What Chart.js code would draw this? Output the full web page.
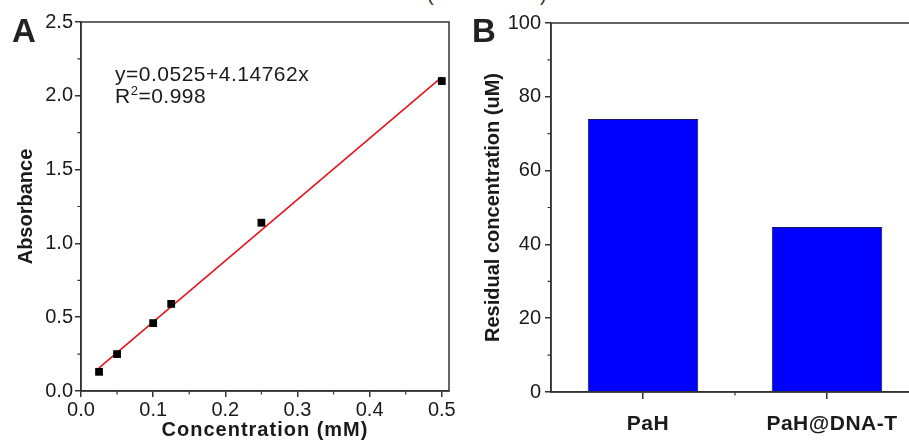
<!DOCTYPE html>
<html>
<head>
<meta charset="utf-8">
<script src="https://cdn.jsdelivr.net/npm/chart.js@4.4.1/dist/chart.umd.min.js"></script>
<style>
  html, body { margin: 0; padding: 0; background: #fff; }
  body { width: 909px; height: 442px; overflow: hidden; position: relative; font-family: 'Liberation Sans', Arial, sans-serif; }
  canvas { position: absolute; top: 0; }
  #chartA { left: 0; }
  #chartB { left: 460px; }
  .panel { position: absolute; font-weight: bold; font-size: 33px; line-height: 1; color: #222; }
  .paren { position: absolute; font-size: 20px; line-height: 1; color: #333; top: -16px; }
</style>
</head>
<body>
<div class="paren" style="left:427px">(</div>
<div class="paren" style="left:540px">)</div>
<canvas id="chartA" width="460" height="442"></canvas>
<canvas id="chartB" width="470" height="442"></canvas>
<div class="panel" style="left:12px; top:14px">A</div>
<div class="panel" style="left:472px; top:14px">B</div>
<script>
// A: calibration standards and their linear fit
const concMM = [0.025, 0.05, 0.1, 0.125, 0.25, 0.5];
const absorbance = [0.13, 0.25, 0.46, 0.59, 1.14, 2.1];
const fitIntercept = 0.0525;
const fitSlope = 4.14762;
const fitRange = [0.025, 0.5];
const fitR2 = '0.998';

// B: residual concentration per sample
const samples = ['PaH', 'PaH@DNA-T'];
const residual = [74.0, 44.7];

const FONT = "'Liberation Sans', Arial, sans-serif";
const AXIS = '#333';
const TEXT = '#1a1a1a';

// box round the plot area, plus short ticks halfway between the labelled ones
const framePlugin = {
  id: 'frame',
  afterDraw(chart) {
    const { ctx, chartArea: a } = chart;
    ctx.save();
    ctx.strokeStyle = AXIS;
    ctx.lineWidth = 1.5;
    ctx.strokeRect(a.left, a.top, a.right - a.left, a.bottom - a.top);
    ctx.lineWidth = 1.2;
    ctx.beginPath();
    for (const id of ['x', 'y']) {
      const s = chart.scales[id];
      const px = s.ticks.map((t, i) => s.getPixelForTick(i));
      for (let i = 0; i < px.length - 1; i++) {
        const m = (px[i] + px[i + 1]) / 2;
        if (s.isHorizontal()) { ctx.moveTo(m, a.bottom); ctx.lineTo(m, a.bottom + 3.5); }
        else { ctx.moveTo(a.left, m); ctx.lineTo(a.left - 3.5, m); }
      }
    }
    ctx.stroke();
    ctx.restore();
  }
};

// fit equation in the upper left of panel A
const fitLabel = {
  id: 'fitLabel',
  afterDraw(chart) {
    const { ctx, chartArea: a } = chart;
    const x0 = a.left + 34;
    ctx.save();
    ctx.fillStyle = TEXT;
    ctx.textBaseline = 'alphabetic';
    ctx.letterSpacing = '0.5px';
    ctx.font = `21px ${FONT}`;
    ctx.fillText(`y=${fitIntercept}+${fitSlope}x`, x0, a.top + 59);
    let x = x0;
    ctx.fillText('R', x, a.top + 81);
    x += ctx.measureText('R').width;
    ctx.font = `13px ${FONT}`;
    ctx.fillText('2', x, a.top + 73);
    x += ctx.measureText('2').width;
    ctx.font = `21px ${FONT}`;
    ctx.fillText('=' + fitR2, x, a.top + 81);
    ctx.restore();
  }
};

// wider tracking for one part of a scale ('drawTitle' or 'drawLabels')
function spaced(method, px) {
  return s => {
    if (s._spaced) return;
    const orig = s[method].bind(s);
    s[method] = (...args) => {
      s.ctx.save();
      s.ctx.letterSpacing = px;
      orig(...args);
      s.ctx.restore();
    };
    s._spaced = true;
  };
}

function axisStyle(tickLength) {
  return {
    grid: { drawOnChartArea: false, tickLength, color: AXIS, lineWidth: 1.5 },
    border: { color: AXIS, width: 1.5 }
  };
}

new Chart(document.getElementById('chartA'), {
  type: 'scatter',
  data: {
    datasets: [
      {
        data: concMM.map((x, i) => ({ x, y: absorbance[i] })),
        pointStyle: 'rect',
        pointRadius: 5.5,
        backgroundColor: '#000',
        borderColor: '#000',
        borderWidth: 0
      },
      {
        type: 'line',
        showLine: true,
        data: fitRange.map(x => ({ x, y: fitIntercept + fitSlope * x })),
        borderColor: '#e3151b',
        borderWidth: 1.6,
        pointRadius: 0,
        fill: false
      }
    ]
  },
  options: {
    responsive: false,
    animation: false,
    events: [],
    layout: { padding: { top: 22, right: 11, left: 0, bottom: 0 } },
    plugins: { legend: { display: false }, tooltip: { enabled: false } },
    scales: {
      x: {
        type: 'linear', min: 0, max: 0.51,
        afterFit: s => { s.height = 51; spaced('drawTitle', '1px')(s); },
        ...axisStyle(6),
        ticks: {
          stepSize: 0.1, includeBounds: false, autoSkip: false, maxRotation: 0,
          padding: 1, color: TEXT, font: { size: 20, family: FONT },
          callback: v => v.toFixed(1)
        },
        title: {
          display: true, text: 'Concentration (mM)', color: TEXT,
          font: { size: 20, weight: 'bold', family: FONT }, padding: { top: 0, bottom: 0 }
        }
      },
      y: {
        min: 0, max: 2.5,
        afterFit: s => { s.width = 81; },
        ...axisStyle(6),
        ticks: {
          stepSize: 0.5, padding: 2, color: TEXT, font: { size: 20, family: FONT },
          callback: v => v.toFixed(1)
        },
        title: {
          display: true, text: 'Absorbance', color: TEXT,
          font: { size: 20, weight: 'bold', family: FONT }, padding: { top: 14, bottom: 0 }
        }
      }
    }
  },
  plugins: [framePlugin, fitLabel]
});

new Chart(document.getElementById('chartB'), {
  type: 'bar',
  data: {
    labels: samples,
    datasets: [{
      data: residual,
      backgroundColor: '#0000fe',
      borderColor: '#16166a',
      borderWidth: 1,
      barPercentage: 0.6,
      categoryPercentage: 1
    }]
  },
  options: {
    responsive: false,
    animation: false,
    events: [],
    layout: { padding: { top: 23, right: 11, left: 0, bottom: 0 } },
    plugins: { legend: { display: false }, tooltip: { enabled: false } },
    scales: {
      x: {
        afterFit: s => { s.height = 50; spaced('drawLabels', '0.5px')(s); },
        grid: { offset: false, drawOnChartArea: false, tickLength: 7, color: AXIS, lineWidth: 1.5 },
        border: { color: AXIS, width: 1.5 },
        ticks: { padding: 13, labelOffset: 5, color: TEXT, font: { size: 21, weight: 'bold', family: FONT } }
      },
      y: {
        min: 0, max: 100,
        afterFit: s => { s.width = 91; },
        ...axisStyle(6),
        ticks: { stepSize: 20, padding: 4, color: TEXT, font: { size: 20, family: FONT } },
        title: {
          display: true, text: 'Residual concentration (uM)', color: TEXT,
          font: { size: 20, weight: 'bold', family: FONT }, padding: { top: 21, bottom: 0 }
        }
      }
    }
  },
  plugins: [framePlugin]
});
</script>
</body>
</html>
